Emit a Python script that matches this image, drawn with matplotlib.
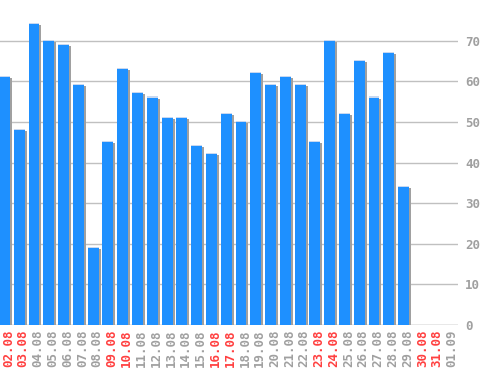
import matplotlib
matplotlib.use("Agg")
import matplotlib.pyplot as plt
import matplotlib.transforms as mtransforms

dates = ["02.08","03.08","04.08","05.08","06.08","07.08","08.08","09.08","10.08","11.08",
         "12.08","13.08","14.08","15.08","16.08","17.08","18.08","19.08","20.08","21.08",
         "22.08","23.08","24.08","25.08","26.08","27.08","28.08","29.08","30.08","31.08","01.09"]
values = [61,48,74,70,69,59,19,45,63,57,56,51,51,44,42,52,50,62,59,61,59,45,70,52,65,56,67,34,0,0,0]
weekend = ["02.08","03.08","09.08","10.08","16.08","17.08","23.08","24.08","30.08","31.08"]
yticks = [0,10,20,30,40,50,60,70]

fig = plt.figure(figsize=(4.98, 3.70), dpi=100)
ax = fig.add_axes([0, 45/370, 458/498, 325/370])

x = list(range(len(dates)))
shadow = mtransforms.offset_copy(ax.transData, fig=fig, x=2, y=-1, units='dots')
ax.bar(x, values, width=0.74, color="#A0A0A0", transform=shadow, zorder=2)
ax.bar(x, values, width=0.74, color="#1E90FF", zorder=3)
# light top edge
ax.bar(x, [0.25 if v > 0 else 0 for v in values], bottom=values, width=0.74,
       color="#C8D8F0", zorder=3)

ax.set_xlim(-0.3, 30.68)
ax.set_ylim(0, 80)
ax.set_yticks(yticks)
ax.yaxis.grid(True, color="#C0C0C0", linewidth=1)
ax.set_axisbelow(True)
for s in ax.spines.values():
    s.set_visible(False)
ax.axhline(0, color="#C0C0C0", linewidth=1, zorder=1)

ax.yaxis.tick_right()
ax.tick_params(axis='y', length=0, pad=5, labelsize=9, labelcolor="#A0A0A0")
ax.tick_params(axis='x', length=0, pad=3, labelsize=9)
ax.set_xticks(x)
ax.set_xticklabels(dates, rotation=90, family="DejaVu Sans Mono")
for lbl in ax.get_yticklabels():
    lbl.set_family("DejaVu Sans Mono")
    lbl.set_fontweight("bold")
off = mtransforms.ScaledTranslation(4/100, 0, fig.dpi_scale_trans)
for lbl in ax.get_xticklabels():
    lbl.set_color("#FF4040" if lbl.get_text() in weekend else "#A0A0A0")
    lbl.set_fontweight("bold")
    lbl.set_transform(lbl.get_transform() + off)

fig.savefig("out.png", dpi=100)
